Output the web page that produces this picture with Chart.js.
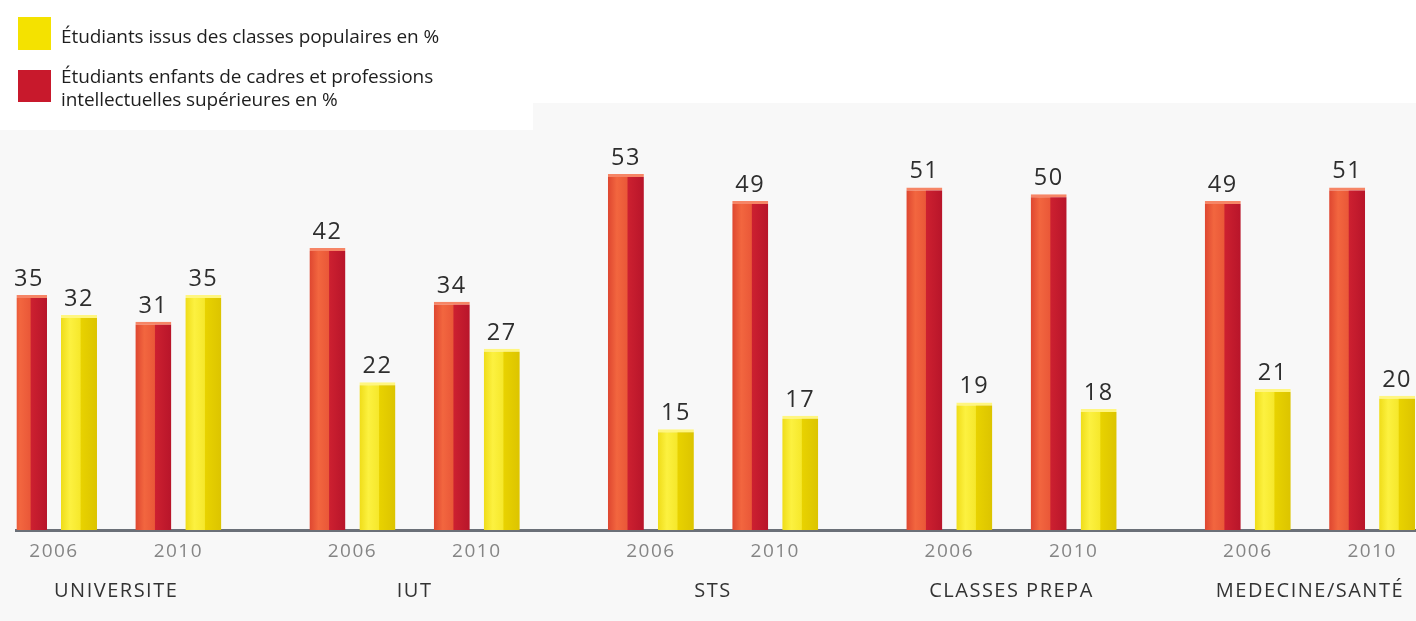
<!DOCTYPE html>
<html><head><meta charset="utf-8">
<script src="https://cdn.jsdelivr.net/npm/chart.js@4.4.1/dist/chart.umd.min.js"></script>
<style>
html,body{margin:0;padding:0;width:1416px;height:621px;overflow:hidden;background:#f8f8f8;}
#top{position:absolute;left:0;top:0;width:1416px;height:103px;background:#fff}
#box{position:absolute;left:0;top:0;width:533px;height:130px;background:#fff}
#c{position:absolute;left:0;top:0}
.lg{position:absolute;left:61px;font-family:'Open Sans',sans-serif;font-size:19px;color:#1e1e1e;line-height:23px;white-space:nowrap;letter-spacing:-0.1px}
.sw{position:absolute;left:18px;width:33px;height:33px}
</style></head>
<body>
<div id="top"></div><div id="box"></div>
<canvas id="c" width="1440" height="621"></canvas>
<div id="legend"></div>
<script>
const categories = ['UNIVERSITE', 'IUT', 'STS', 'CLASSES PREPA', 'MEDECINE/SANTÉ'];
const years = ['2006', '2010'];
// values per category, per year (2006, 2010)
const cadres = [35, 31, 42, 34, 53, 49, 51, 50, 49, 51];
const populaires = [32, 35, 22, 27, 15, 17, 19, 18, 21, 20];
const labelCadres = ['Étudiants enfants de cadres et professions', 'intellectuelles supérieures en %'];
const labelPopulaires = ['Étudiants issus des classes populaires en %'];

// slot layout on the category axis: 12 slots per category, years in slots 1 and 6
const SLOTS_PER_CAT = 12, YEAR_SLOT = [1, 6], N_SLOTS = 57;
const slotLabels = new Array(N_SLOTS).fill('');
const dataCadres = new Array(N_SLOTS).fill(null);
const dataPop = new Array(N_SLOTS).fill(null);
categories.forEach((c, ci) => {
  years.forEach((y, yi) => {
    const s = ci * SLOTS_PER_CAT + YEAR_SLOT[yi];
    slotLabels[s] = y;
    dataCadres[s] = cadres[ci * 2 + yi];
    dataPop[s] = populaires[ci * 2 + yi];
  });
});
const catCenters = categories.map((c, ci) => ci * SLOTS_PER_CAT + (YEAR_SLOT[0] + YEAR_SLOT[1]) / 2);

// legend (HTML)
const lg = document.getElementById('legend');
lg.innerHTML =
  '<div class="sw" style="top:17px;background:#f4e200"></div>' +
  '<div class="lg" style="top:25px">' + labelPopulaires.join('<br>') + '</div>' +
  '<div class="sw" style="top:70px;height:32px;background:#c8192c"></div>' +
  '<div class="lg" style="top:65px">' + labelCadres.join('<br>') + '</div>';

const palettes = [
  {stops: [[0, '#de4630'], [0.25, '#f2663f'], [0.53, '#ea5838'], [0.56, '#cc2030'], [1, '#b8152a']], top: '#f68566'},
  {stops: [[0, '#efdc18'], [0.25, '#fcf140'], [0.53, '#f6e82c'], [0.56, '#e8d200'], [1, '#dcc400']], top: '#fff680'}
];

const shadePlugin = {
  id: 'shade',
  beforeDatasetsDraw(chart) {
    const ctx = chart.ctx;
    chart.data.datasets.forEach((ds, di) => {
      const meta = chart.getDatasetMeta(di);
      meta.data.forEach((el, i) => {
        if (ds.data[i] == null) return;
        const l = el.x - el.width / 2, r = el.x + el.width / 2;
        const g = ctx.createLinearGradient(l, 0, r, 0);
        palettes[di].stops.forEach(s => g.addColorStop(s[0], s[1]));
        el.options.backgroundColor = g;
      });
    });
  },
  afterDatasetsDraw(chart) {
    const ctx = chart.ctx;
    ctx.save();
    ctx.font = '500 23.5px "Open Sans"';
    ctx.fillStyle = '#2e2e2e';
    ctx.textAlign = 'center';
    ctx.textBaseline = 'bottom';
    chart.data.datasets.forEach((ds, di) => {
      const meta = chart.getDatasetMeta(di);
      meta.data.forEach((el, i) => {
        if (ds.data[i] == null) return;
        ctx.fillText(String(ds.data[i]), el.x, el.y - 4);
      });
    });
    ctx.restore();
  },
  beforeDraw(chart) { chart.ctx.letterSpacing = '1.5px'; }
};

new Chart(document.getElementById('c'), {
  type: 'bar',
  data: {
    labels: slotLabels,
    datasets: [
      {label: labelCadres.join(' '), data: dataCadres, backgroundColor: () => palettes[0].stops[1][1],
       borderColor: palettes[0].top, borderWidth: {top: 3, left: 0, right: 0, bottom: 0}, borderSkipped: false},
      {label: labelPopulaires.join(' '), data: dataPop, backgroundColor: () => palettes[1].stops[1][1],
       borderColor: palettes[1].top, borderWidth: {top: 3, left: 0, right: 0, bottom: 0}, borderSkipped: false}
    ]
  },
  options: {
    responsive: false,
    animation: false,
    devicePixelRatio: 1,
    categoryPercentage: 4.02,
    barPercentage: 0.72,
    layout: {padding: {left: 16.7, right: 5.7, top: 127, bottom: 0}},
    plugins: {legend: {display: false}, tooltip: {enabled: false}},
    scales: {
      y: {display: false, min: 0, max: 60},
      x: {
        type: 'category', position: 'bottom', weight: 0,
        grid: {display: false, drawTicks: false},
        border: {display: true, color: '#6b7078', width: 3},
        ticks: {autoSkip: false, maxRotation: 0, padding: 10, color: '#858585',
                font: {family: 'Open Sans', size: 19}},
        afterFit: s => { s.height = 40; }
      },
      x2: {
        type: 'linear', position: 'bottom', weight: 1, offset: false,
        min: -0.5, max: N_SLOTS - 0.5,
        grid: {display: false, drawTicks: false, offset: false},
        border: {display: false},
        afterBuildTicks: s => { s.ticks = catCenters.map(v => ({value: v})); },
        ticks: {autoSkip: false, maxRotation: 0, padding: 9, color: '#333333',
                font: {family: 'Open Sans', size: 20, weight: '500'},
                callback: v => categories[catCenters.indexOf(v)]},
        afterFit: s => { s.height = 51; }
      }
    }
  },
  plugins: [shadePlugin]
});
</script>
</body></html>
